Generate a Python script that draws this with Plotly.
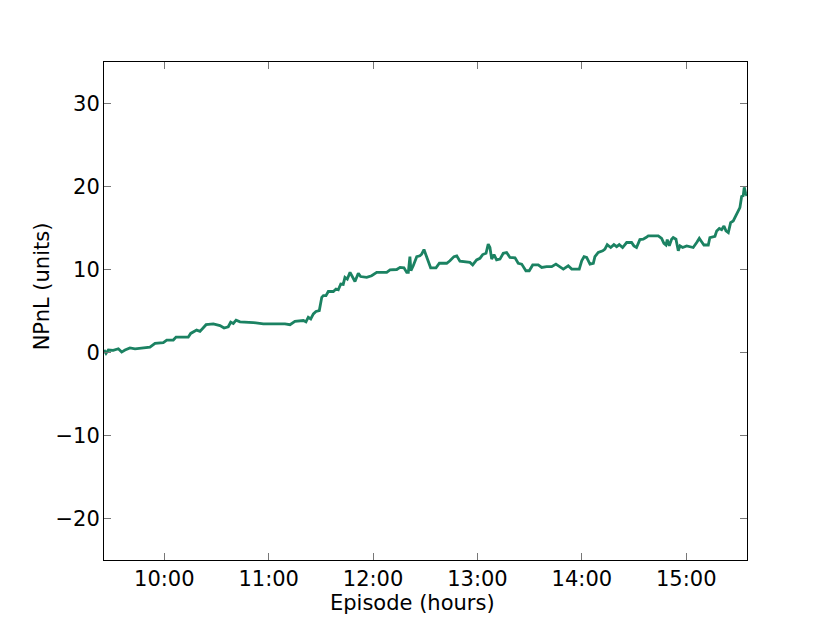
'''
    Cumulative NPnL over one trading episode, drawn as a single line.
'''
import pandas as pd
import plotly.graph_objects as go

DAY = "2016-01-04"

times = [
    "09:25:20", "09:26:30", "09:27:50", "09:30:40", "09:33:35", "09:35:30",
    "09:37:25", "09:40:15", "09:43:10", "09:47:55", "09:51:45", "09:54:40",
    "09:59:25", "10:01:25", "10:05:10", "10:06:45", "10:11:55", "10:13:45",
    "10:15:10", "10:18:35", "10:20:30", "10:24:00", "10:28:10", "10:32:00",
    "10:34:20", "10:36:45", "10:38:10", "10:39:40", "10:41:15", "10:43:30",
    "10:51:10", "10:56:55", "11:02:40", "11:09:20", "11:12:15", "11:15:05",
    "11:19:55", "11:21:25", "11:22:45", "11:24:10", "11:25:40", "11:27:10",
    "11:29:05", "11:30:30", "11:31:25", "11:32:55", "11:34:15", "11:37:10",
    "11:38:40", "11:40:00", "11:41:25", "11:42:50", "11:43:50", "11:45:10",
    "11:46:45", "11:48:15", "11:49:35", "11:51:30", "11:52:50", "11:56:20",
    "11:59:10", "12:02:05", "12:07:50", "12:09:45", "12:13:35", "12:15:30",
    "12:17:45", "12:19:20", "12:20:15", "12:21:10", "12:21:45", "12:23:05",
    "12:25:05", "12:26:55", "12:27:55", "12:29:15", "12:30:25", "12:33:05",
    "12:36:10", "12:38:05", "12:42:20", "12:44:10", "12:46:30", "12:48:05",
    "12:49:55", "12:53:45", "12:55:40", "12:57:15", "12:59:30", "13:01:25",
    "13:03:00", "13:04:55", "13:06:10", "13:07:10", "13:08:10", "13:09:30",
    "13:11:00", "13:12:55", "13:14:50", "13:16:45", "13:18:40", "13:21:35",
    "13:23:25", "13:25:25", "13:27:50", "13:29:45", "13:31:45", "13:34:55",
    "13:36:55", "13:39:45", "13:42:40", "13:45:05", "13:47:25", "13:49:20",
    "13:52:10", "13:54:10", "13:58:30", "13:59:55", "14:01:15", "14:02:45",
    "14:04:40", "14:06:35", "14:07:30", "14:09:25", "14:12:00", "14:13:15",
    "14:14:35", "14:16:35", "14:18:25", "14:20:00", "14:21:30", "14:23:25",
    "14:25:45", "14:28:35", "14:29:55", "14:31:25", "14:33:20", "14:35:15",
    "14:36:50", "14:38:10", "14:43:55", "14:45:50", "14:47:10", "14:48:20",
    "14:49:05", "14:50:15", "14:51:35", "14:52:30", "14:54:05", "14:55:25",
    "14:56:25", "14:57:55", "15:00:15", "15:04:00", "15:06:00", "15:07:30",
    "15:08:50", "15:10:10", "15:12:40", "15:13:35", "15:16:30", "15:17:30",
    "15:19:00", "15:20:20", "15:21:40", "15:22:50", "15:24:10", "15:25:30",
    "15:27:00", "15:28:35", "15:29:55", "15:30:50", "15:31:50", "15:32:45",
    "15:33:20", "15:34:10", "15:34:55",
]

npnl = [
    0.3, -0.1, 0.3, 0.25, 0.45, 0.05,
    0.3, 0.55, 0.45, 0.55, 0.65, 1.1,
    1.2, 1.5, 1.5, 1.85, 1.9, 1.85,
    2.3, 2.7, 2.55, 3.35, 3.45, 3.25,
    2.95, 3.1, 3.65, 3.5, 3.9, 3.7,
    3.6, 3.45, 3.45, 3.45, 3.35, 3.75,
    3.85, 3.7, 4.25, 4.05, 4.65, 4.95,
    5.05, 6.65, 6.85, 6.85, 7.35, 7.35,
    7.65, 7.55, 8.25, 8.2, 9.05, 8.85,
    9.65, 9.15, 8.55, 9.55, 9.15, 9.05,
    9.25, 9.65, 9.65, 9.95, 10.0, 10.25,
    10.2, 9.65, 9.65, 11.55, 9.85, 10.45,
    11.55, 11.65, 11.85, 12.4, 11.65, 10.2,
    10.2, 10.75, 10.75, 11.05, 11.55, 11.65,
    11.0, 10.85, 10.85, 10.55, 11.15, 11.35,
    11.8, 11.95, 13.05, 12.65, 11.25, 11.8,
    11.15, 11.25, 11.95, 12.05, 11.45, 11.4,
    10.75, 10.65, 9.85, 9.85, 10.55, 10.55,
    10.25, 10.35, 10.35, 10.65, 10.35, 10.05,
    10.45, 10.05, 10.05, 11.05, 11.55, 11.45,
    10.65, 10.75, 11.55, 12.05, 12.25, 12.45,
    13.0, 12.65, 13.0, 12.75, 13.0, 12.65,
    13.25, 13.25, 12.85, 12.65, 13.6, 13.65,
    13.85, 14.05, 14.05, 13.75, 13.15, 12.95,
    13.6, 12.85, 13.65, 13.85, 13.65, 12.25,
    12.85, 12.65, 12.85, 12.65, 13.25, 13.75,
    13.35, 12.95, 12.95, 13.85, 14.0, 14.65,
    14.95, 14.8, 15.25, 14.65, 14.45, 15.65,
    15.85, 16.55, 17.05, 17.45, 18.8, 18.9,
    19.9, 19.1, 18.9,
]

x_range = ["09:25:20", "15:34:55"]
y_range = [-25, 35]
y_ticks = [-20, -10, 0, 10, 20, 30]

FONT = "DejaVu Sans, sans-serif"

x = pd.to_datetime([f"{DAY} {t}" for t in times])

fig = go.Figure()
fig.add_trace(go.Scatter(
    x=x, y=npnl,
    mode="lines",
    line=dict(color="#1b8262", width=2.8),
    showlegend=False,
))

axis_style = dict(
    showgrid=False,
    zeroline=False,
    showline=True,
    linecolor="black",
    linewidth=1,
    mirror="allticks",
    ticks="inside",
    ticklen=7,
    tickwidth=1,
    tickcolor="#777777",
    tickfont=dict(family=FONT, size=21, color="black"),
)

# the page body adds 8px, so margins are set 8px short on the top/left
fig.update_layout(
    width=830, height=623,
    margin=dict(l=96, r=91, t=54, b=71),
    paper_bgcolor="white",
    plot_bgcolor="white",
    font=dict(family=FONT, color="black"),
    xaxis=dict(
        axis_style,
        type="date",
        range=[f"{DAY} {x_range[0]}", f"{DAY} {x_range[1]}"],
        tick0=f"{DAY} 10:00:00",
        dtick=3600000,
        tickformat="%H:%M",
    ),
    yaxis=dict(
        axis_style,
        range=y_range,
        tickvals=y_ticks,
        ticklabelstandoff=-1,
    ),
)

# axis titles as annotations: the reference sets them a little off-centre
fig.add_annotation(
    text="Episode (hours)", xref="paper", yref="paper",
    x=0.48, y=-0.087, xanchor="center", yanchor="middle",
    showarrow=False, font=dict(family=FONT, size=21),
)
fig.add_annotation(
    text="NPnL (units)", xref="paper", yref="paper", textangle=-90,
    x=-0.096, y=0.55, xanchor="center", yanchor="middle",
    showarrow=False, font=dict(family=FONT, size=21),
)

fig.write_html("out.html")
